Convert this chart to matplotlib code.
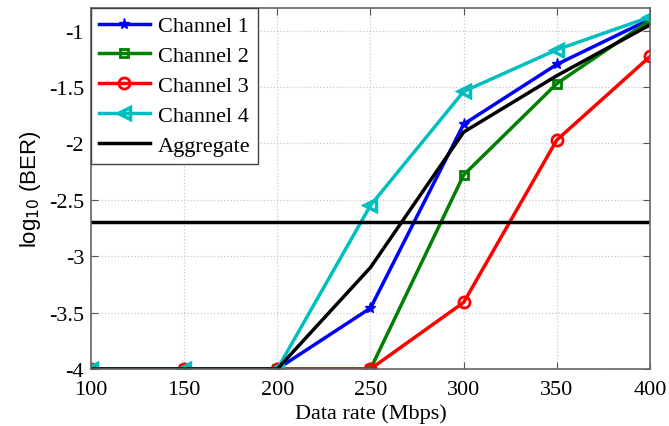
import matplotlib
matplotlib.use("Agg")
import matplotlib.pyplot as plt

rates = [100, 150, 200, 250, 300, 350, 400]
ch1 = [-4, -4, -4, -3.46, -1.83, -1.30, -0.90]
ch2 = [-4, -4, -4, -4.0, -2.28, -1.47, -0.91]
ch3 = [-4, -4, -4, -4.0, -3.41, -1.97, -1.23]
ch4 = [-4, -4, -4, -2.55, -1.54, -1.17, -0.88]
agg = [-4, -4, -4, -3.10, -1.90, -1.40, -0.95]
threshold = -2.7
xticks = [100, 150, 200, 250, 300, 350, 400]
yticks = [-4, -3.5, -3, -2.5, -2, -1.5, -1]

serif = ['Liberation Serif', 'DejaVu Serif']
sans = ['Liberation Sans', 'DejaVu Sans']

fig = plt.figure(figsize=(6.69, 4.27), dpi=100)
ax = fig.add_axes([0.136, 0.1335, 0.8356, 0.8455])

lw = 2.5
ax.plot(rates, ch1, color='#0000ff', lw=lw, marker='*', ms=8, label='Channel 1')
ax.plot(rates, ch2, color='#008000', lw=lw, marker='s', ms=6, mfc='none', mew=2, label='Channel 2')
ax.plot(rates, ch3, color='#ff0000', lw=lw, marker='o', ms=8, mfc='none', mew=2, label='Channel 3')
ax.plot(rates, ch4, color='#00bfbf', lw=lw, marker='<', ms=8, mfc='none', mew=2.5, label='Channel 4')
ax.plot(rates, agg, color='black', lw=lw, label='Aggregate')
ax.axhline(threshold, color='black', lw=2.5)

ax.set_xlim(100, 400)
ax.set_ylim(-4, -0.8)
ax.set_xticks(xticks)
ax.set_yticks(yticks)
ax.set_xticklabels([str(v) for v in xticks], fontfamily=serif, fontsize=16)
ax.set_yticklabels([f'{v:g}' for v in yticks], fontfamily=serif, fontsize=16)
ax.tick_params(direction='in', top=True, right=True, length=5, color='#555555')
ax.tick_params(axis='x', pad=8)
ax.tick_params(axis='y', pad=5)
ax.grid(True, linestyle=':', color='#c8c8c8', lw=0.9)
for s in ax.spines.values():
    s.set_color('#666666')
    s.set_linewidth(1.2)

ax.set_xlabel('Data rate (Mbps)', fontfamily=serif, fontsize=16, labelpad=3)
ax.set_ylabel(r'log$_{10}$ (BER)', fontfamily=sans, fontsize=16, labelpad=4)

leg = ax.legend(loc='upper left', prop={'family': serif, 'size': 16}, fancybox=False,
                framealpha=1, edgecolor='#444444', borderaxespad=0, handlelength=2.3,
                handletextpad=0.35, labelspacing=0.42, borderpad=0.35)
leg.get_frame().set_linewidth(1.0)

fig.savefig('out.png', dpi=100)
